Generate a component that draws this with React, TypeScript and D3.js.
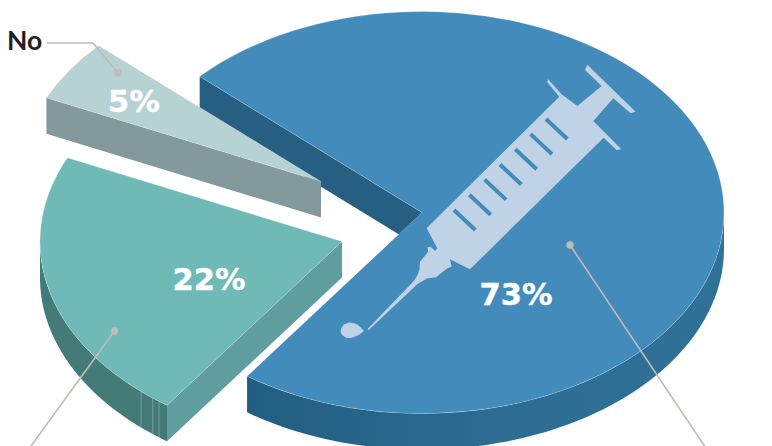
import React from "react";
import * as d3 from "d3";

// Survey shares, clockwise from the large slice
const categories = ["Yes", "Unknown", "No"];
const shares = [73, 22, 5];
const percentLabels = ["73%", "22%", "5%"];

// Presentation tables for the pseudo-3D pie
const topColors = ["#428bbb", "#6fb9b7", "#b7d2d3"];
const wallColors = ["#265f82", "#5f9d9e", "#84999b"];
const rimColors = ["url(#blueRim)", "#447b79", "none"];
const apexX = [422, 342, 321];
const apexY = [212.5, 241.5, 181.5];
const labelX = [516, 209, 134];
const labelY = [305, 289.5, 112];
const seamDegrees = [217.3, 218.8, 221.7];

const W = 772;
const H = 446;
const RX = 302;
const RY = 201;
const DEPTH = 36;
const rad = (d: number) => (d * Math.PI) / 180;

const slices = d3
  .pie<number>()
  .sort(null)
  .startAngle(rad(-47.4))
  .endAngle(rad(312.6))(shares);

const topArc = d3.arc<d3.PieArcDatum<number>>().innerRadius(0).outerRadius(RX);
const outline = d3.line<[number, number]>();

// Point on the rim ellipse of a slice whose apex sits at (cx, cy)
const rimPoint = (cx: number, cy: number, a: number, drop = 0): [number, number] => [
  cx + RX * Math.sin(a),
  cy - RY * Math.cos(a) + drop,
];

function rimPath(cx: number, cy: number, from: number, to: number) {
  const steps = d3.range(0, 81).map((i) => from + ((to - from) * i) / 80);
  const upper = steps.map((a) => rimPoint(cx, cy, a));
  const lower = steps.map((a) => rimPoint(cx, cy, a, DEPTH)).reverse();
  return outline([...upper, ...lower]) + "Z";
}

function wallPath(cx: number, cy: number, a: number) {
  return (
    outline([
      [cx, cy],
      rimPoint(cx, cy, a),
      rimPoint(cx, cy, a, DEPTH),
      [cx, cy + DEPTH],
    ]) + "Z"
  );
}

// Syringe silhouette, drawn in a 3x grid and scaled down on placement
const syringeBody =
  "M320,535 L718,140 L682,97 L684,87 L724,132 L772,168 L845,108 L795,60 L802,44 L947,185 L932,190 L880,145 L820,213 L904,298 L890,300 L851,263 L450,658 L390,628 L395,650 L382,655 L348,682 L322,685 L292,703 L146,840 L142,838 L275,700 Q292,682 298,660 L300,635 L325,605 L322,592 L332,590 L345,603 L352,595 Z";
const syringeDrip =
  "M132,843 Q110,815 85,818 Q60,825 62,848 Q75,870 100,862 Q120,855 132,843 Z";
const gradations = d3.range(0, 7);

function Leader({ points, dot }: { points: [number, number][]; dot: [number, number] }) {
  return (
    <g>
      <path d={outline(points) ?? ""} fill="none" stroke="#bfbcb6" strokeWidth={1.6} />
      <circle cx={dot[0]} cy={dot[1]} r={3.7} fill="#bfbcb6" />
    </g>
  );
}

function Slice({ i }: { i: number }) {
  const s = slices[i];
  const cx = apexX[i];
  const cy = apexY[i];
  const rimFrom = Math.max(s.startAngle, rad(90));
  const rimTo = Math.min(s.endAngle, rad(270));
  return (
    <g>
      <path d={wallPath(cx, cy, s.startAngle)} fill={wallColors[i]} />
      {rimTo > rimFrom && <path d={rimPath(cx, cy, rimFrom, rimTo)} fill={rimColors[i]} />}
      <path
        d={topArc(s) ?? ""}
        transform={`translate(${cx},${cy}) scale(1,${RY / RX})`}
        fill={topColors[i]}
        stroke="#ffffff"
        strokeOpacity={0.3}
        strokeWidth={0.7}
        vectorEffect="non-scaling-stroke"
      />
    </g>
  );
}

export default function App() {
  return (
    <svg
      width={W}
      height={H}
      viewBox={`0 0 ${W} ${H}`}
      style={{ position: "absolute", left: 0, top: 0, display: "block", background: "#fff" }}
    >
      <defs>
        <linearGradient id="blueRim" gradientUnits="userSpaceOnUse" x1={248} y1={0} x2={723} y2={0}>
          <stop offset="0" stopColor="#225e81" />
          <stop offset="0.55" stopColor="#2d6d94" />
          <stop offset="1" stopColor="#307197" />
        </linearGradient>
      </defs>

      <g data-category={categories[0]}>
        <Slice i={0} />
      </g>
      <g data-category={categories[2]}>
        <Slice i={2} />
      </g>
      <g data-category={categories[1]}>
        <Slice i={1} />
        {seamDegrees.map((d) => {
          const a = rimPoint(apexX[1], apexY[1], rad(d));
          const b = rimPoint(apexX[1], apexY[1], rad(d), DEPTH);
          return (
            <line key={d} x1={a[0]} y1={a[1]} x2={b[0]} y2={b[1]} stroke="#a9c6c4" strokeOpacity={0.7} strokeWidth={0.7} />
          );
        })}
      </g>

      <g transform="translate(320,50) scale(0.3333)">
        <path d={syringeBody} fill="#bfd2e6" />
        <path d={syringeDrip} fill="#bfd2e6" />
        {gradations.map((k) => (
          <line
            key={k}
            x1={402 + k * 46}
            y1={480 - k * 45.5}
            x2={466 + k * 46}
            y2={540 - k * 45.5}
            stroke="#428bbb"
            strokeWidth={12}
          />
        ))}
      </g>

      <Leader points={[[47, 43], [93, 43], [118, 73]]} dot={[118, 73]} />
      <Leader points={[[114.5, 331], [31, 446]]} dot={[114.5, 331]} />
      <Leader points={[[570, 245], [704.5, 446]]} dot={[570, 245]} />

      <text x={7} y={50} fontFamily="Lato" fontWeight={700} fontSize={26.5} fill="#231f20">
        {categories[2]}
      </text>
      {percentLabels.map((t, i) => (
        <text
          key={t}
          x={labelX[i]}
          y={labelY[i]}
          textAnchor="middle"
          fontFamily="DejaVu Sans"
          fontWeight={700}
          fontSize={30.5}
          fill="#ffffff"
          stroke="#ffffff"
          strokeWidth={0.4}
        >
          {t}
        </text>
      ))}
    </svg>
  );
}
